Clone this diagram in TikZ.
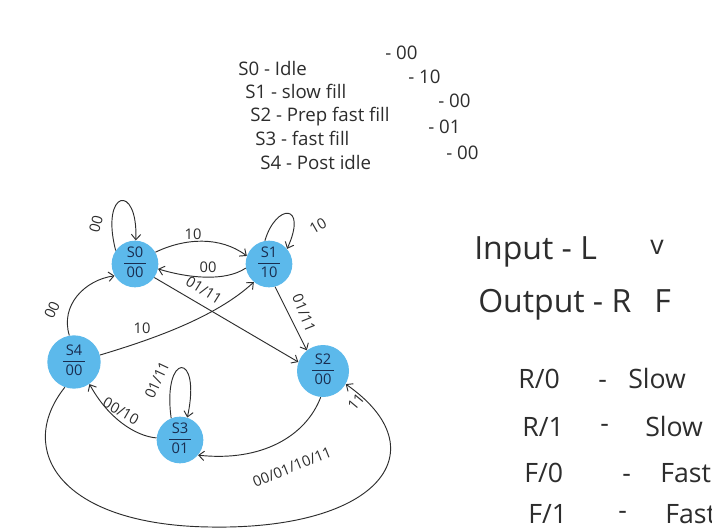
\documentclass[tikz,border=0pt]{standalone}
\usepackage{fontspec}
\setmainfont{Open Sans}
\usetikzlibrary{arrows.meta}
\definecolor{stblue}{RGB}{92,185,235}
\definecolor{ink}{RGB}{45,45,45}
\definecolor{navy}{RGB}{25,45,80}
\newcommand\stlab[2]{{\setlength\arrayrulewidth{0.6pt}\renewcommand\arraystretch{0.95}\begin{tabular}{@{\,}c@{\,}}#1\\[1pt]\hline\rule{0pt}{10pt}#2\end{tabular}}}
\begin{document}
\begin{tikzpicture}[x=0.75pt,y=-0.75pt,
  state/.style={circle,fill=stblue,draw=none,minimum size=35pt,inner sep=0pt,text=navy,font=\fontsize{11}{11}\selectfont},
  edge/.style={draw=ink,line width=0.7pt,-{Straight Barb[length=4pt,width=7pt]}},
  lbl/.style={text=ink,font=\fontsize{11}{11}\selectfont,inner sep=1pt},
  legend/.style={text=ink,font=\fontsize{14}{14}\selectfont,anchor=base west,inner sep=0pt},
  big/.style={text=ink,font=\fontsize{24}{24}\selectfont,anchor=base west,inner sep=0pt},
  mid/.style={text=ink,font=\fontsize{20}{20}\selectfont,anchor=base west,inner sep=0pt}]
\useasboundingbox (0,0) rectangle (712,530);
\clip (0,0) rectangle (712,530);
\fill[white] (0,0) rectangle (712,530);

% legend
\node[legend] (l0) at (238,76) {S0 - Idle};
\node[legend] (c0) at (385,60) {- 00};
\node[legend] (l1) at (245,99) {S1 - slow fill};
\node[legend] (c1) at (408,84) {- 10};
\node[legend] (l2) at (250,122) {S2 - Prep fast fill};
\node[legend] (c2) at (438,108) {- 00};
\node[legend] (l3) at (255,146) {S3 - fast fill};
\node[legend] (c3) at (428,134) {- 01};
\node[legend] (l4) at (260,170) {S4 - Post idle};
\node[legend] (c4) at (446,160) {- 00};

% input / output
\node[big] (inp) at (474,260) {Input - L};
\node[mid] (inv) at (650,255) {v};
\node[big] (outp) at (478,312) {Output - R};
\node[big] (outf) at (654,312) {F};

% modes
\node[mid] (m1a) at (518,388) {R/0};
\node[mid] (m1b) at (598,388) {-};
\node[mid] (m1c) at (628,388) {Slow};
\node[mid] (m2a) at (522,436) {R/1};
\node[mid] (m2b) at (600,432) {-};
\node[mid] (m2c) at (645,436) {Slow};
\node[mid] (m3a) at (524,482) {F/0};
\node[mid] (m3b) at (622,482) {-};
\node[mid] (m3c) at (660,482) {Fast};
\node[mid] (m4a) at (528,523) {F/1};
\node[mid] (m4b) at (618,519) {-};
\node[mid] (m4c) at (665,523) {Fast};

% states
\node[state] (s0) at (135,264) {\stlab{S0}{00}};
\node[state] (s1) at (269,264) {\stlab{S1}{10}};
\node[state,minimum size=40pt] (s4) at (74,362) {\stlab{S4}{00}};
\node[state,minimum size=39pt] (s2) at (323,371) {\stlab{S2}{00}};
\node[state] (s3) at (180,440) {\stlab{S3}{01}};

% S0 loop
\draw[edge] (s0.145) .. controls (100,190) and (138,182) .. (s0.88);
\node[lbl,rotate=75] (e1) at (96,224) {00};
% S1 loop
\draw[edge] (s1.100) .. controls (276,203) and (308,203) .. (s1.40);
\node[lbl,rotate=30] (e2) at (318,226) {10};
% S0 -> S1
\draw[edge] (s0.30) .. controls (185,238) and (220,236) .. (s1.160);
\node[lbl] (e3) at (193,234) {10};
% S1 -> S0
\draw[edge] (s1.190) .. controls (225,282) and (188,278) .. (s0.-12);
\node[lbl] (e4) at (208,267) {00};
% S0 -> S2
\draw[edge] (s0.-35) -- (s2.160);
\node[lbl,rotate=-32] (e5) at (204,290) {01/11};
% S1 -> S2
\draw[edge] (s1.-75) -- (s2.128);
\node[lbl,rotate=-68] (e6) at (304,313) {01/11};
% S4 -> S1
\draw[edge] (s4.15) .. controls (150,340) and (215,318) .. (s1.-130);
\node[lbl] (e7) at (142,328) {10};
% S4 -> S0
\draw[edge] (s4.100) .. controls (60,305) and (85,280) .. (s0.-150);
\node[lbl,rotate=65] (e8) at (52,310) {00};
% S3 loop
\draw[edge] (s3.112) .. controls (162,352) and (202,350) .. (s3.72);
\node[lbl,rotate=65] (e9) at (157,380) {01/11};
% S3 -> S4
\draw[edge] (s3.175) .. controls (135,436) and (108,418) .. (s4.-55);
\node[lbl,rotate=-30] (e10) at (121,411) {00/10};
% S2 -> S3
\draw[edge] (s2.-95) .. controls (306,436) and (262,462) .. (s3.-40);
\node[lbl,rotate=22] (e11) at (292,467) {00/01/10/11};
% S4 -> S2
\draw[edge] (s4.-110) .. controls (15,450) and (60,525) .. (210,527) .. controls (380,530) and (440,450) .. (s2.-30);
\node[lbl,rotate=50] (e12) at (356,402) {11};
\end{tikzpicture}
\end{document}
